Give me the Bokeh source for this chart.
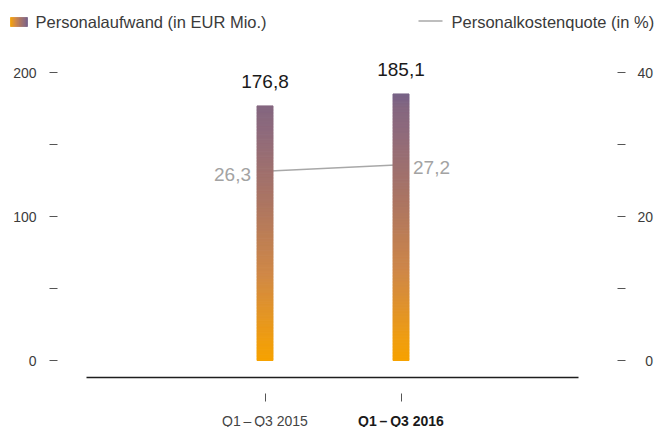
from bokeh.plotting import figure
from bokeh.models import Range1d, LinearAxis, FixedTicker, ColumnDataSource
from bokeh.core.properties import value
from bokeh.embed import file_html
from bokeh.resources import INLINE

# ---------------- data ----------------
categories = ["Q1\u2009\u2013\u2009Q3 2015", "Q1\u2009\u2013\u2009Q3 2016"]
category_bold = [False, True]
personalaufwand = [176.8, 185.1]          # EUR Mio. (left axis)
personalkostenquote = [26.3, 27.2]        # % (right axis)
aufwand_labels = ["176,8", "185,1"]
quote_labels = ["26,3", "27,2"]
left_ticks = [0, 50, 100, 150, 200]
left_tick_labels = {50: "", 150: ""}
right_ticks = [0, 10, 20, 30, 40]
right_tick_labels = {0: "\u20070", 10: "", 30: ""}
legend_bar = "Personalaufwand (in EUR Mio.)"
legend_line = "Personalkostenquote (in %)"

# ---------------- style / geometry ----------------
FONT = "Liberation Sans"
W, H = 656, 427
X0_PX, X_PX_PER_UNIT = 264.5, 136.0     # screen x of first category, px per category
Y0_PX, Y_PX_PER_UNIT = 360.0, 1.44      # screen y of value 0, px per EUR Mio.
PCT_FACTOR = 5.0                         # right axis = left axis / 5
grad_values = [0, 15, 60, 110, 160, 176, 190]
grad_colors = ["#F6A200", "#EF9D10", "#D08846", "#AC7562", "#8E6A7C", "#84667F", "#70608C"]


def dx(px):
    return (px - X0_PX) / X_PX_PER_UNIT


def dy(py):
    return (Y0_PX - py) / Y_PX_PER_UNIT


def hex2rgb(h):
    h = h.lstrip("#")
    return [int(h[i:i + 2], 16) for i in (0, 2, 4)]


def grad(v):
    for i in range(len(grad_values) - 1):
        a, b = grad_values[i], grad_values[i + 1]
        if v <= b or i == len(grad_values) - 2:
            t = max(0.0, min(1.0, (v - a) / (b - a)))
            c0, c1 = hex2rgb(grad_colors[i]), hex2rgb(grad_colors[i + 1])
            c = [round(c0[k] + (c1[k] - c0[k]) * t) for k in range(3)]
            return "#%02x%02x%02x" % tuple(c)


xs = list(range(len(categories)))

p = figure(width=W, height=H, output_backend="svg", toolbar_location=None,
           x_range=Range1d(dx(0), dx(W)), y_range=Range1d(dy(H), dy(0)),
           min_border_left=0, min_border_right=0, min_border_top=0, min_border_bottom=0)
p.extra_y_ranges = {"pct": Range1d(dy(H) / PCT_FACTOR, dy(0) / PCT_FACTOR)}
p.outline_line_color = None
p.background_fill_color = "white"
p.border_fill_color = "white"
p.xgrid.visible = False
p.ygrid.visible = False

# x axis: baseline with detached ticks (labels drawn below as text, one is bold)
xa = p.xaxis[0]
xa.fixed_location = dy(377)
xa.bounds = (dx(86), dx(578))
xa.ticker = FixedTicker(ticks=xs)
xa.major_label_overrides = {i: "" for i in xs}
xa.major_label_standoff = 0
xa.axis_line_color = "#1e1e1e"
xa.axis_line_width = 1.5
xa.major_tick_in = -16
xa.major_tick_out = 24
xa.major_tick_line_color = "#555555"
xa.minor_tick_line_color = None

ya = p.yaxis[0]
ya.fixed_location = dx(57)
ya.ticker = FixedTicker(ticks=left_ticks)
ya.major_label_overrides = left_tick_labels
ya.axis_line_color = None
ya.major_tick_in = 0
ya.major_tick_out = 8
ya.major_tick_line_color = "#555555"
ya.minor_tick_line_color = None
ya.major_label_standoff = 13
ya.major_label_text_font = FONT
ya.major_label_text_font_size = "14px"
ya.major_label_text_color = "#3c3c3c"

ra = LinearAxis(y_range_name="pct", ticker=FixedTicker(ticks=right_ticks))
ra.fixed_location = dx(617)
ra.major_label_overrides = right_tick_labels
ra.axis_line_color = None
ra.major_tick_in = 0
ra.major_tick_out = 8
ra.major_tick_line_color = "#555555"
ra.minor_tick_line_color = None
ra.major_label_standoff = 12
ra.major_label_text_font = FONT
ra.major_label_text_font_size = "14px"
ra.major_label_text_color = "#3c3c3c"
p.add_layout(ra, "right")

# line (behind the bars)
p.line(x=xs, y=personalkostenquote, y_range_name="pct",
       line_color="#A8A8A8", line_width=1.5)

# gradient bars as thin slices
N = 90
bw = 16 / X_PX_PER_UNIT
src = dict(left=[], right=[], bottom=[], top=[], color=[])
for x, v in zip(xs, personalaufwand):
    for k in range(N):
        b, t = v * k / N, v * (k + 1) / N
        src["left"].append(x - bw / 2)
        src["right"].append(x + bw / 2)
        src["bottom"].append(b)
        src["top"].append(t)
        src["color"].append(grad((b + t) / 2))
p.quad(left="left", right="right", bottom="bottom", top="top",
       fill_color="color", line_color="color", line_width=1,
       source=ColumnDataSource(src))

# value labels above bars
p.text(x=xs, y=personalaufwand, text=aufwand_labels, text_align="center",
       text_baseline="alphabetic", y_offset=-24, text_font=value(FONT),
       text_font_size="19px", text_color="#1a1a1a")

# percentage labels
p.text(x=xs[:1], y=personalkostenquote[:1], text=quote_labels[:1], y_range_name="pct",
       text_align="right", text_baseline="middle", x_offset=-14, y_offset=3,
       text_font=value(FONT), text_font_size="19px", text_color="#A3A3A3")
p.text(x=xs[1:], y=personalkostenquote[1:], text=quote_labels[1:], y_range_name="pct",
       text_align="left", text_baseline="middle", x_offset=12, y_offset=3,
       text_font=value(FONT), text_font_size="19px", text_color="#A3A3A3")

# category labels (second one bold)
for x, c, bold in zip(xs, categories, category_bold):
    p.text(x=[x], y=[dy(420)], text=[c], text_align="center", text_baseline="middle",
           text_font=value(FONT), text_font_size="14px",
           text_font_style="bold" if bold else "normal",
           text_color="#1a1a1a" if bold else "#444444")

# legend
NS = 17
sw = dict(left=[], right=[], color=[])
for k in range(NS):
    sw["left"].append(dx(10 + 17 * k / NS))
    sw["right"].append(dx(10 + 17 * (k + 1) / NS))
    sw["color"].append(grad(190 * (k + 0.5) / NS))
p.quad(left="left", right="right", top=dy(17), bottom=dy(26), fill_color="color",
       line_color="color", line_width=0.8, source=ColumnDataSource(sw))
p.text(x=[dx(35)], y=[dy(21)], text=[legend_bar], text_baseline="middle",
       text_font=value(FONT), text_font_size="16.5px", text_color="#3a3a3a")
p.segment(x0=[dx(418)], y0=[dy(20.5)], x1=[dx(442)], y1=[dy(20.5)],
          line_color="#A8A8A8", line_width=1.5)
p.text(x=[dx(451)], y=[dy(21)], text=[legend_line], text_baseline="middle",
       text_font=value(FONT), text_font_size="16.5px", text_color="#3a3a3a")

open("out.html", "w").write(file_html(p, INLINE))
